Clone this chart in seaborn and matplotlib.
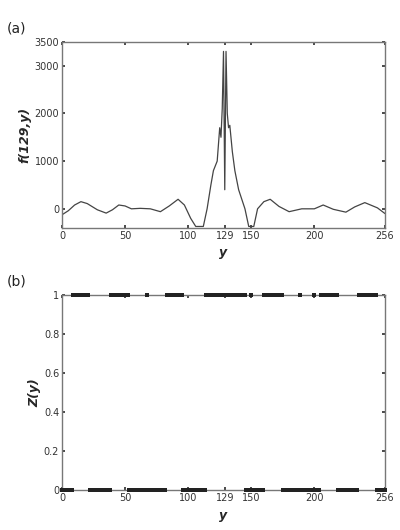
import matplotlib
matplotlib.use("Agg")
import matplotlib.pyplot as plt
import seaborn as sns
import numpy as np
import pandas as pd

# Panel (a): f(129, y) samples
y_a = [0, 5, 10, 15, 20, 28, 35, 40, 45, 50, 55, 62, 70, 78, 85, 92, 97, 102, 106, 108, 112,
       115, 118, 120, 123, 125, 126, 127, 128, 129, 130, 131, 132, 133, 135, 137, 140, 145,
       148, 152, 155, 160, 165, 172, 180, 190, 200, 207, 215, 225, 232, 240, 250, 256]
f_a = [-125, -40, 80, 150, 110, -20, -90, -20, 80, 60, 0, 10, 0, -60, 60, 200, 80, -200, -370, -370, -370,
       0, 500, 800, 1000, 1700, 1500, 2100, 3300, 400, 3300, 2000, 1700, 1750, 1200, 800, 400, 0,
       -370, -370, 0, 150, 200, 50, -60, 0, 0, 80, -10, -70, 40, 130, 20, -100]

# Panel (b): intervals where Z(y) = 1
one_intervals = [(9, 21), (39, 52), (67, 67), (83, 95), (114, 145), (150, 150),
                 (160, 174), (189, 189), (200, 200), (205, 218), (235, 249)]
xticks = [0, 50, 100, 129, 150, 200, 256]

ys = np.arange(0, 257)
z = np.zeros_like(ys)
for a, b in one_intervals:
    z[(ys >= a) & (ys <= b)] = 1

sns.set_theme(style="white")
plt.rcParams['font.family'] = ['DejaVu Sans']
fig = plt.figure(figsize=(4, 5.3), dpi=100)
ax1 = fig.add_axes([0.155, 0.57, 0.8075, 0.351])
ax2 = fig.add_axes([0.155, 0.075, 0.8075, 0.368])

sns.lineplot(x=y_a, y=f_a, ax=ax1, color="#444444", lw=0.9)
ax1.set_xlim(0, 256); ax1.set_ylim(-400, 3500)
ax1.set_yticks([0, 1000, 2000, 3000, 3500])
ax1.set_ylabel("f(129,y)", fontsize=9, fontweight="bold", style="italic", labelpad=2)

df = pd.DataFrame({"y": ys, "z": z})
sns.scatterplot(data=df, x="y", y="z", ax=ax2, color="#222222", marker="s", s=9,
                linewidth=0, clip_on=False, zorder=5)
ax2.set_xlim(0, 256); ax2.set_ylim(0, 1)
ax2.set_yticks([0, 0.2, 0.4, 0.6, 0.8, 1])
ax2.set_yticklabels(["0", "0.2", "0.4", "0.6", "0.8", "1"])
ax2.set_ylabel("Z(y)", fontsize=9, fontweight="bold", style="italic", labelpad=2)

for ax, lab in [(ax1, "(a)"), (ax2, "(b)")]:
    ax.set_xticks(xticks)
    ax.set_xlabel("y", fontsize=9, fontweight="bold", style="italic", labelpad=4)
    ax.tick_params(direction="in", length=2, labelsize=7, colors="#333333", pad=2,
                   top=True, right=True, bottom=True, left=True)
    for s in ax.spines.values():
        s.set_color("#777777"); s.set_linewidth(1.0)
    ax.text(-0.17, 1.05, lab, transform=ax.transAxes, fontsize=10, color="#222222")

fig.savefig("out.png", dpi=100)
